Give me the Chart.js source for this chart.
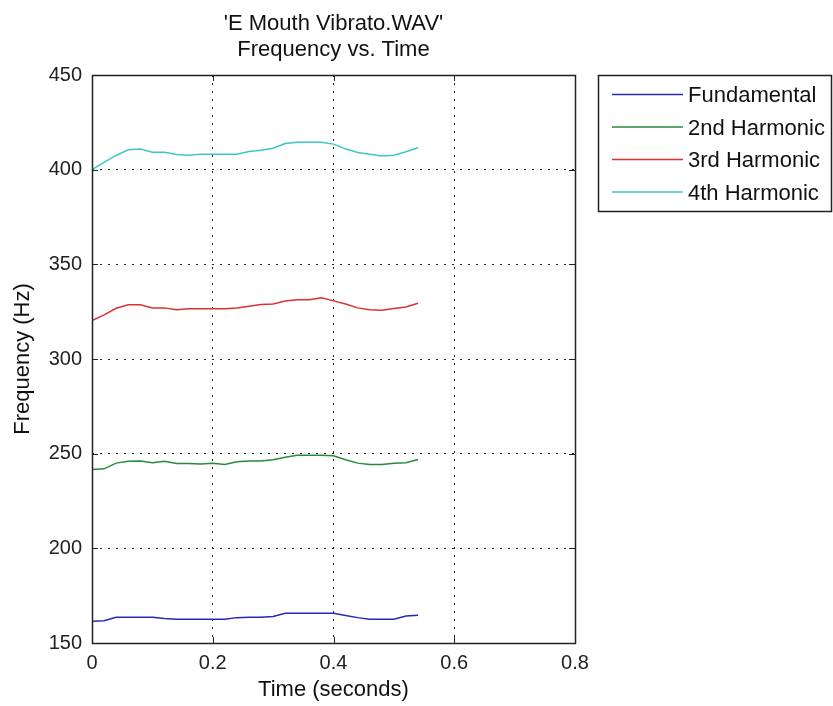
<!DOCTYPE html>
<html>
<head>
<meta charset="UTF-8">
<title>E Mouth Vibrato - Frequency vs. Time</title>
<script src="https://cdn.jsdelivr.net/npm/chart.js@4.4.0/dist/chart.umd.min.js"></script>
<style>
  html, body { margin: 0; padding: 0; background: #fff; }
</style>
</head>
<body>
<canvas id="myChart" width="833" height="706"></canvas>
<script>
// time samples (seconds)
const time = [0, 0.02, 0.04, 0.06, 0.08, 0.10, 0.12, 0.14, 0.16, 0.18, 0.20, 0.22, 0.24, 0.26,
              0.28, 0.30, 0.32, 0.34, 0.36, 0.38, 0.40, 0.42, 0.44, 0.46, 0.48, 0.50, 0.52, 0.54];

// frequency (Hz)
const fundamental = [161.5, 161.8, 163.6, 163.6, 163.6, 163.6, 163.0, 162.6, 162.6, 162.6, 162.6, 162.6, 163.4, 163.6,
                     163.6, 164.0, 165.7, 165.7, 165.7, 165.7, 165.7, 164.5, 163.4, 162.6, 162.6, 162.6, 164.3, 164.7];
const harmonic2 = [241.7, 242.0, 245.0, 246.0, 246.1, 245.2, 246.0, 244.8, 244.8, 244.6, 245.0, 244.3, 245.7, 246.1,
                   246.1, 246.8, 248.1, 249.1, 249.1, 249.1, 248.9, 246.8, 245.0, 244.3, 244.3, 245.0, 245.2, 246.9];
const harmonic3 = [320.3, 323.3, 326.8, 328.7, 328.7, 326.9, 327.0, 326.0, 326.5, 326.5, 326.5, 326.5, 326.9, 327.8,
                   328.8, 329.1, 330.6, 331.3, 331.3, 332.3, 330.7, 329.0, 327.0, 326.0, 325.8, 326.7, 327.5, 329.4];
const harmonic4 = [400.0, 403.8, 407.5, 410.5, 410.9, 409.2, 409.2, 408.0, 407.6, 408.1, 408.1, 408.1, 408.1, 409.6,
                   410.2, 411.3, 413.8, 414.5, 414.5, 414.5, 413.5, 411.0, 409.1, 408.2, 407.2, 407.6, 409.5, 411.6];

const seriesNames = ["Fundamental", "2nd Harmonic", "3rd Harmonic", "4th Harmonic"];
const seriesColors = ["#2828b4", "#2a8a3c", "#d83232", "#3ec6c6"];
const titleLines = ["'E Mouth Vibrato.WAV'", "Frequency vs. Time"];

const FONT = "'Liberation Sans', Arial, sans-serif";

function points(ys) {
    return ys.map(function (y, i) { return { x: time[i], y: y }; });
}

const allSeries = [fundamental, harmonic2, harmonic3, harmonic4];

// title, frame, inward ticks and legend box
const matlabLook = {
    id: 'matlabLook',
    afterDraw: function (chart) {
        const ctx = chart.ctx;
        const a = chart.chartArea;
        const xs = chart.scales.x, ys = chart.scales.y;
        ctx.save();
        ctx.setLineDash([]);
        ctx.strokeStyle = '#222';
        ctx.lineWidth = 1.5;
        ctx.strokeRect(Math.round(a.left) + 0.5, Math.round(a.top) + 0.5,
                       Math.round(a.right - a.left), Math.round(a.bottom - a.top));

        // inward tick marks
        ctx.lineWidth = 1;
        ctx.beginPath();
        xs.ticks.forEach(function (t) {
            const px = Math.round(xs.getPixelForValue(t.value)) + 0.5;
            ctx.moveTo(px, a.bottom); ctx.lineTo(px, a.bottom - 6);
            ctx.moveTo(px, a.top); ctx.lineTo(px, a.top + 6);
        });
        ys.ticks.forEach(function (t) {
            const py = Math.round(ys.getPixelForValue(t.value)) + 0.5;
            ctx.moveTo(a.left, py); ctx.lineTo(a.left + 6, py);
            ctx.moveTo(a.right, py); ctx.lineTo(a.right - 6, py);
        });
        ctx.stroke();

        // title
        ctx.fillStyle = '#111';
        ctx.font = '22px ' + FONT;
        ctx.textAlign = 'center';
        ctx.textBaseline = 'alphabetic';
        const cx = (a.left + a.right) / 2;
        ctx.fillText(titleLines[0], cx, 30);
        ctx.fillText(titleLines[1], cx, 56);

        // legend
        ctx.strokeStyle = '#222';
        ctx.lineWidth = 1.5;
        ctx.strokeRect(598.5, 75.5, 233, 136);
        ctx.textAlign = 'left';
        chart.data.datasets.forEach(function (ds, i) {
            const yc = 94.5 + i * 32.5;
            ctx.strokeStyle = ds.borderColor;
            ctx.lineWidth = 1.5;
            ctx.beginPath();
            ctx.moveTo(612, yc); ctx.lineTo(683, yc);
            ctx.stroke();
            ctx.fillStyle = '#111';
            ctx.fillText(ds.label, 688, yc + 7.5);
        });
        ctx.restore();
    }
};

const ctx = document.getElementById('myChart').getContext('2d');
const myChart = new Chart(ctx, {
    type: 'scatter',
    data: {
        datasets: allSeries.map(function (s, i) {
            return {
                label: seriesNames[i],
                data: points(s),
                showLine: true,
                borderColor: seriesColors[i],
                backgroundColor: seriesColors[i],
                borderWidth: 1.5,
                pointRadius: 0,
                tension: 0
            };
        })
    },
    options: {
        responsive: false,
        animation: false,
        devicePixelRatio: 1,
        layout: { padding: { top: 75, right: 258, left: 0, bottom: 0 } },
        plugins: {
            legend: { display: false },
            title: { display: false },
            tooltip: { enabled: false }
        },
        scales: {
            x: {
                type: 'linear',
                min: 0, max: 0.8,
                afterFit: function (s) { s.height = 63; },
                ticks: { stepSize: 0.2, padding: 8, color: '#222', font: { family: FONT, size: 20 } },
                grid: { color: '#222', lineWidth: 1, drawTicks: false },
                border: { display: false, dash: [2, 6] },
                title: { display: true, text: 'Time (seconds)', color: '#111',
                         font: { family: FONT, size: 22 }, padding: { top: 0, bottom: 3 } }
            },
            y: {
                min: 150, max: 450,
                afterFit: function (s) { s.width = 92; },
                ticks: { stepSize: 50, padding: 10, color: '#222', font: { family: FONT, size: 20 } },
                grid: { color: '#222', lineWidth: 1, drawTicks: false },
                border: { display: false, dash: [2, 6] },
                title: { display: true, text: 'Frequency (Hz)', color: '#111',
                         font: { family: FONT, size: 22 }, padding: { top: 10, bottom: 0 } }
            }
        }
    },
    plugins: [matlabLook]
});
</script>
</body>
</html>
